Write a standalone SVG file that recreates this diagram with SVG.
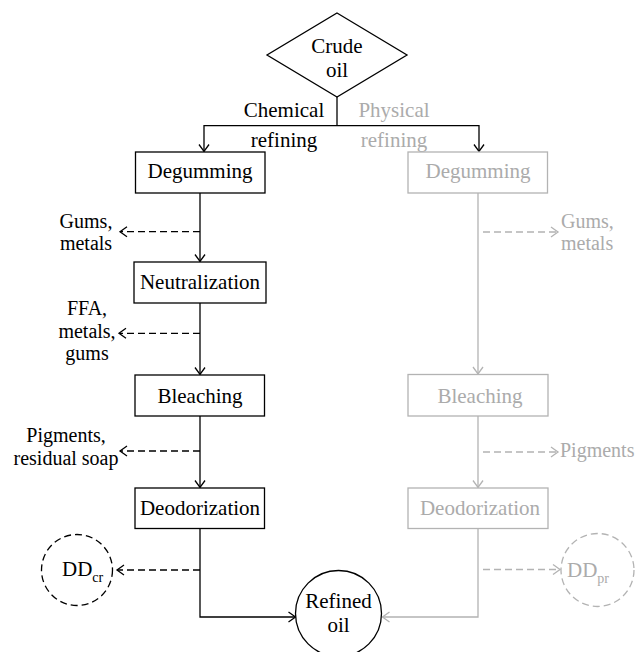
<svg xmlns="http://www.w3.org/2000/svg" width="640" height="652" viewBox="0 0 640 652">
<style>
text{font-family:"Liberation Serif","Times New Roman",serif;font-size:21px;fill:#000}
text.g{fill:#ababab}
text.s{font-size:20px}
.c{text-anchor:middle}
.box{fill:#fff;stroke:#000;stroke-width:1.3}
.gbox{fill:#fff;stroke:#b3b3b3;stroke-width:1.3}
.ln{fill:none;stroke:#000;stroke-width:1.3}
.gln{fill:none;stroke:#b3b3b3;stroke-width:1.3}
.d{stroke-dasharray:7 4}
.sub{font-size:14px}
</style>
<defs>
<marker id="ab" viewBox="-9 -7 11 14" refX="0" refY="0" markerWidth="11" markerHeight="14" markerUnits="userSpaceOnUse" orient="auto">
<path d="M-7,-5 L0,0 L-7,5" fill="none" stroke="#000" stroke-width="1.3"/>
</marker>
<marker id="ag" viewBox="-9 -7 11 14" refX="0" refY="0" markerWidth="11" markerHeight="14" markerUnits="userSpaceOnUse" orient="auto">
<path d="M-7,-5 L0,0 L-7,5" fill="none" stroke="#b3b3b3" stroke-width="1.3"/>
</marker>
</defs>
<rect width="640" height="652" fill="#fff"/>
<g id="connectors">
<path class="ln" d="M337,97 V125.7"/>
<path class="ln" d="M337,125.7 H204 V151.5" marker-end="url(#ab)"/>
<path class="ln" d="M337,125.7 H479 V151.5" marker-end="url(#ab)"/>
<path class="ln" d="M200,193 V261.5" marker-end="url(#ab)"/>
<path class="ln" d="M200,303 V374.5" marker-end="url(#ab)"/>
<path class="ln" d="M200,416 V487.5" marker-end="url(#ab)"/>
<path class="ln" d="M200,528 V617 H295.5" marker-end="url(#ab)"/>
<path class="ln d" d="M200,231.7 H120" marker-end="url(#ab)"/>
<path class="ln d" d="M200,333.3 H119" marker-end="url(#ab)"/>
<path class="ln d" d="M200,451 H120" marker-end="url(#ab)"/>
<path class="ln d" d="M200,570 H117" marker-end="url(#ab)"/>
<path class="gln" d="M478,193 V374" marker-end="url(#ag)"/>
<path class="gln" d="M478,416 V487.5" marker-end="url(#ag)"/>
<path class="gln" d="M478,528 V617 H382.5" marker-end="url(#ag)"/>
<path class="gln d" d="M483,232 H558" marker-end="url(#ag)"/>
<path class="gln d" d="M483,452 H558" marker-end="url(#ag)"/>
<path class="gln d" d="M483,569.5 H560" marker-end="url(#ag)"/>
</g>
<g id="crude-oil">
<polygon class="box" points="337,13 407,55 337,97 267,55"/>
<text class="c" x="337" y="53">Crude</text>
<text class="c" x="337" y="77">oil</text>
</g>
<g id="label-chemical">
<text class="c" x="284" y="117">Chemical</text>
<text class="c" x="284" y="147">refining</text>
</g>
<g id="label-physical">
<text class="c g" x="394" y="117">Physical</text>
<text class="c g" x="394" y="147">refining</text>
</g>
<g id="degumming-cr">
<rect class="box" x="135.5" y="152" width="129.5" height="41"/>
<text class="c" x="200" y="178">Degumming</text>
</g>
<g id="neutralization">
<rect class="box" x="134" y="262" width="132" height="41"/>
<text class="c" x="200" y="289">Neutralization</text>
</g>
<g id="bleaching-cr">
<rect class="box" x="135" y="375" width="129.5" height="41"/>
<text class="c" x="200" y="402.5">Bleaching</text>
</g>
<g id="deodorization-cr">
<rect class="box" x="135" y="488" width="129.5" height="40.5"/>
<text class="c" x="200" y="514.5">Deodorization</text>
</g>
<g id="byproduct-gums-cr">
<text class="c s" x="86" y="227.5">Gums,</text>
<text class="c s" x="86" y="250">metals</text>
</g>
<g id="byproduct-ffa">
<text class="c s" x="87" y="315">FFA,</text>
<text class="c s" x="87" y="337.5">metals,</text>
<text class="c s" x="87" y="360">gums</text>
</g>
<g id="byproduct-pigments-cr">
<text class="c s" x="66" y="442">Pigments,</text>
<text class="c s" x="66" y="465">residual soap</text>
</g>
<g id="dd-cr">
<circle class="ln d" cx="77" cy="570" r="35.5"/>
<text x="62" y="576">DD<tspan class="sub" dy="6">cr</tspan></text>
</g>
<g id="degumming-pr">
<rect class="gbox" x="408" y="152" width="139.5" height="41"/>
<text class="c g" x="478" y="178">Degumming</text>
</g>
<g id="bleaching-pr">
<rect class="gbox" x="408" y="374.5" width="140" height="41.5"/>
<text class="c g" x="480" y="402.5">Bleaching</text>
</g>
<g id="deodorization-pr">
<rect class="gbox" x="408" y="488" width="140" height="40.5"/>
<text class="c g" x="480" y="514.5">Deodorization</text>
</g>
<g id="byproduct-gums-pr">
<text class="g s" x="561" y="227.5">Gums,</text>
<text class="g s" x="561" y="250">metals</text>
</g>
<g id="byproduct-pigments-pr">
<text class="g s" x="560" y="457">Pigments</text>
</g>
<g id="dd-pr">
<circle class="gln d" cx="597.5" cy="570" r="36.5"/>
<text class="g" x="567" y="577">DD<tspan class="sub" dy="6">pr</tspan></text>
</g>
<g id="refined-oil">
<circle class="box" cx="338.5" cy="613.5" r="43"/>
<text class="c" x="338.5" y="608">Refined</text>
<text class="c" x="338.5" y="632">oil</text>
</g>
</svg>
